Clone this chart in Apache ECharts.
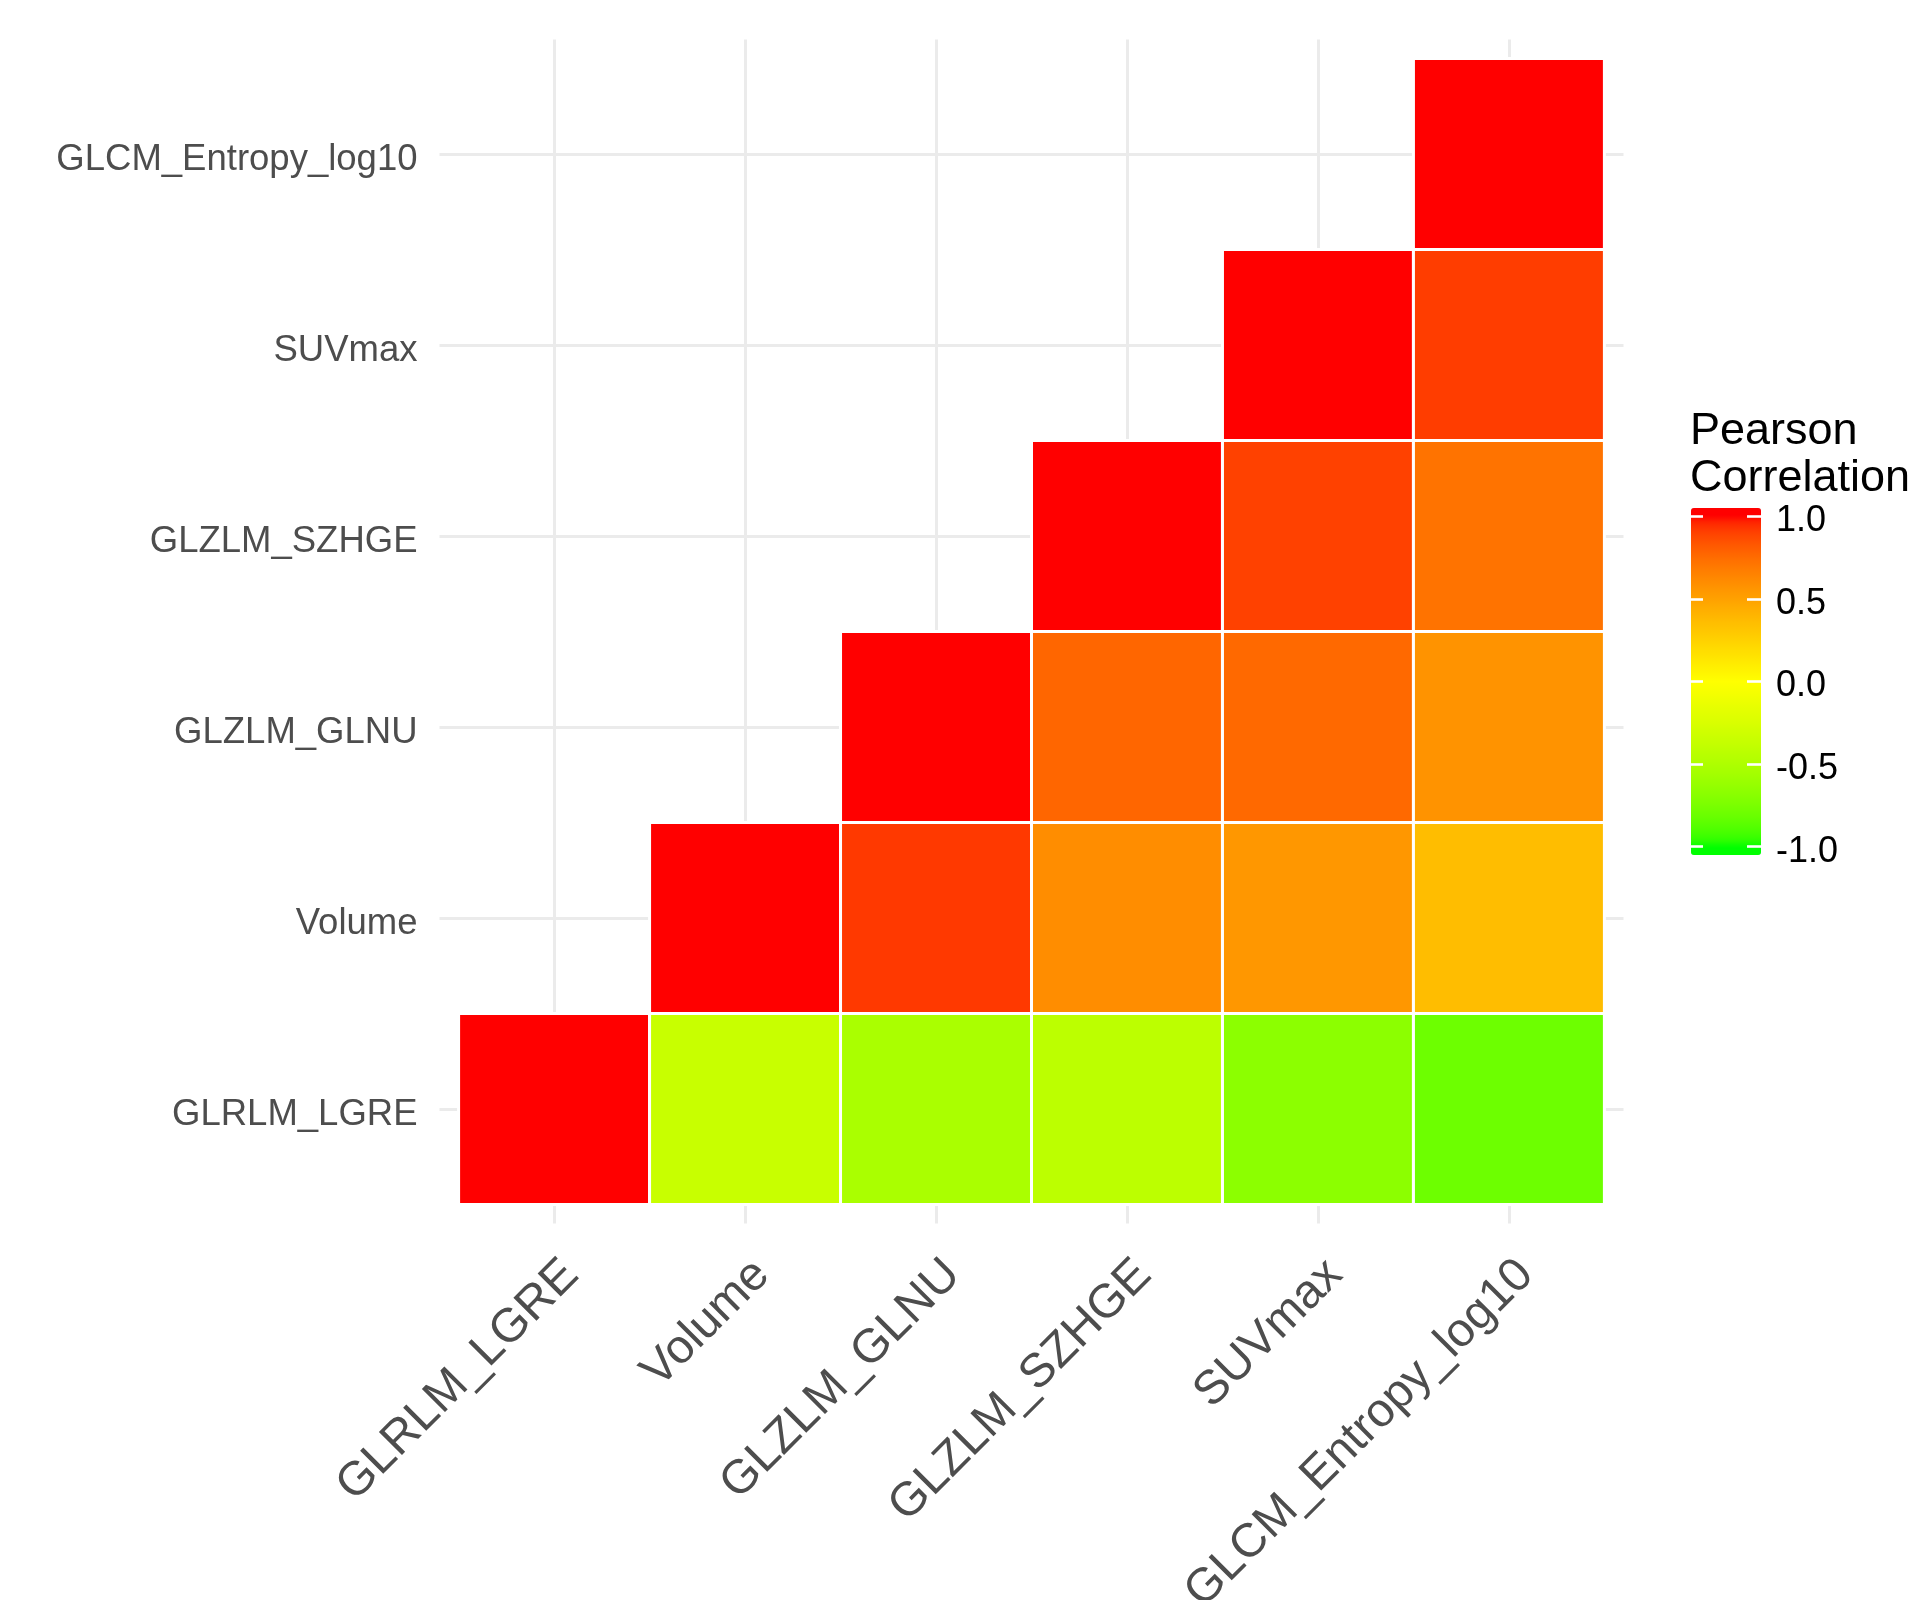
<!DOCTYPE html>
<html>
<head>
<meta charset="utf-8">
<title>Pearson correlation of PET features</title>
<script src="https://cdn.jsdelivr.net/npm/echarts@6/dist/echarts.min.js"></script>
<style>
  html, body { margin: 0; padding: 0; background: #ffffff; }
  #chart { width: 1909px; height: 1600px; }
</style>
</head>
<body>
<div id="chart"></div>
<script>
// Features in axis order (bottom-to-top on y, left-to-right on x)
const features = ['GLRLM_LGRE', 'Volume', 'GLZLM_GLNU', 'GLZLM_SZHGE', 'SUVmax', 'GLCM_Entropy_log10'];

// Pearson r of each feature with itself and with every feature listed after it
const rLGRE    = [1.00, -0.35, -0.52, -0.42, -0.67, -0.80];
const rVolume  = [1.00, 0.92, 0.60, 0.55, 0.36];
const rGLNU    = [1.00, 0.77, 0.76, 0.57];
const rSZHGE   = [1.00, 0.90, 0.72];
const rSUVmax  = [1.00, 0.91];
const rEntropy = [1.00];

// Colour bar breaks
const legendBreaks = [-1, -0.5, 0, 0.5, 1];
const legendTitle = 'Pearson\nCorrelation';

// ---- diverging green / yellow / red gradient interpolated in CIE Lab ----
const WHITE = [0.95047, 1.0, 1.08883];
function toLin(c) { c /= 255; return c <= 0.04045 ? c / 12.92 : Math.pow((c + 0.055) / 1.055, 2.4); }
function fromLin(c) {
  c = Math.min(1, Math.max(0, c));
  const s = c <= 0.0031308 ? 12.92 * c : 1.055 * Math.pow(c, 1 / 2.4) - 0.055;
  return Math.round(s * 255);
}
function labF(t) { const d = 6 / 29; return t > d * d * d ? Math.cbrt(t) : t / (3 * d * d) + 4 / 29; }
function labFi(f) { const d = 6 / 29; return f > d ? f * f * f : 3 * d * d * (f - 4 / 29); }
function hexToLab(hex) {
  const r = toLin(parseInt(hex.slice(1, 3), 16));
  const g = toLin(parseInt(hex.slice(3, 5), 16));
  const b = toLin(parseInt(hex.slice(5, 7), 16));
  const X = 0.4124564 * r + 0.3575761 * g + 0.1804375 * b;
  const Y = 0.2126729 * r + 0.7151522 * g + 0.0721750 * b;
  const Z = 0.0193339 * r + 0.1191920 * g + 0.9503041 * b;
  const fx = labF(X / WHITE[0]), fy = labF(Y / WHITE[1]), fz = labF(Z / WHITE[2]);
  return [116 * fy - 16, 500 * (fx - fy), 200 * (fy - fz)];
}
function labToHex(lab) {
  const fy = (lab[0] + 16) / 116, fx = fy + lab[1] / 500, fz = fy - lab[2] / 200;
  const X = WHITE[0] * labFi(fx), Y = WHITE[1] * labFi(fy), Z = WHITE[2] * labFi(fz);
  const r =  3.2404542 * X - 1.5371385 * Y - 0.4985314 * Z;
  const g = -0.9692660 * X + 1.8760108 * Y + 0.0415560 * Z;
  const b =  0.0556434 * X - 0.2040259 * Y + 1.0572252 * Z;
  return '#' + [r, g, b].map(c => fromLin(c).toString(16).padStart(2, '0')).join('');
}
const LAB_LOW = hexToLab('#00ff00'), LAB_MID = hexToLab('#ffff00'), LAB_HIGH = hexToLab('#ff0000');
function gradientColor(v) {
  v = Math.max(-1, Math.min(1, v));
  const end = v >= 0 ? LAB_HIGH : LAB_LOW, t = Math.abs(v);
  return labToHex(LAB_MID.map((m, i) => m + (end[i] - m) * t));
}
// colour bar runs half a bin past the limits on each side
const BAR_MIN = -1.05, BAR_MAX = 1.05, N_STOPS = 85;
const barColors = [];
for (let k = 0; k < N_STOPS; k++) {
  barColors.push(gradientColor(BAR_MIN + (BAR_MAX - BAR_MIN) * k / (N_STOPS - 1)));
}

// ---- tiles: upper triangle, x index >= y index (1-based positions) ----
const rows = [rLGRE, rVolume, rGLNU, rSZHGE, rSUVmax, rEntropy];
const cells = [];
rows.forEach((row, i) => {
  row.forEach((r, k) => { cells.push([i + k + 1, i + 1, r]); });
});
const positions = features.map((_, i) => i + 1);

const FONT = '"Liberation Sans", Arial, sans-serif';
const GRID_COLOR = '#ebebeb';

const chart = echarts.init(document.getElementById('chart'), null, { renderer: 'canvas' });

chart.setOption({
  animation: false,
  backgroundColor: '#ffffff',
  textStyle: { fontFamily: FONT },
  grid: [
    { left: 439.5, top: 39.5, width: 1184, height: 1184, outerBoundsMode: 'none', containLabel: false },
    { left: 1691, top: 508, width: 70, height: 347, outerBoundsMode: 'none', containLabel: false }
  ],
  xAxis: [
    {
      gridIndex: 0, type: 'value', min: 0.4, max: 6.6,
      axisLine: { show: false },
      axisTick: { show: false, customValues: positions },
      splitLine: { show: true, lineStyle: { color: GRID_COLOR, width: 3 } },
      axisLabel: {
        customValues: positions,
        formatter: v => features[Math.round(v) - 1],
        rotate: 45, align: 'right', verticalAlign: 'top',
        margin: 27, fontSize: 47.5, color: '#4d4d4d', fontFamily: FONT
      }
    },
    { gridIndex: 1, type: 'value', min: 0, max: 1, show: false }
  ],
  yAxis: [
    {
      gridIndex: 0, type: 'value', min: 0.4, max: 6.6,
      axisLine: { show: false },
      axisTick: { show: false, customValues: positions },
      splitLine: { show: true, lineStyle: { color: GRID_COLOR, width: 3 } },
      axisLabel: {
        customValues: positions,
        formatter: v => features[Math.round(v) - 1],
        margin: 22, fontSize: 36.5, color: '#4d4d4d', fontFamily: FONT,
        verticalAlign: 'top', lineHeight: 12
      }
    },
    {
      gridIndex: 1, type: 'value', min: BAR_MIN, max: BAR_MAX, position: 'left', z: 10,
      axisLine: { show: false },
      axisTick: { show: true, inside: true, length: 12, customValues: legendBreaks,
                  lineStyle: { color: '#ffffff', width: 2.6 } },
      splitLine: { show: false },
      axisLabel: { show: false }
    },
    {
      gridIndex: 1, type: 'value', min: BAR_MIN, max: BAR_MAX, position: 'right', z: 10,
      axisLine: { show: false },
      axisTick: { show: true, inside: true, length: 14, customValues: legendBreaks,
                  lineStyle: { color: '#ffffff', width: 2.6 } },
      splitLine: { show: false },
      axisLabel: {
        customValues: legendBreaks,
        formatter: v => v.toFixed(1),
        margin: 15, fontSize: 36, color: '#000000', fontFamily: FONT,
        verticalAlign: 'top', lineHeight: 10
      }
    }
  ],
  visualMap: {
    type: 'continuous',
    min: BAR_MIN, max: BAR_MAX,
    dimension: 2,
    seriesIndex: 0,
    calculable: false,
    hoverLink: false,
    itemWidth: 70, itemHeight: 347,
    left: 1691, top: 508,
    padding: 0,
    text: null,
    inRange: { color: barColors }
  },
  graphic: [
    {
      type: 'text', left: 1690, top: 408, z: 20,
      style: { text: legendTitle, font: '45px ' + FONT, lineHeight: 47, fill: '#000000' }
    }
  ],
  series: [
    {
      type: 'custom',
      coordinateSystem: 'cartesian2d',
      xAxisIndex: 0, yAxisIndex: 0,
      encode: { x: 0, y: 1 },
      data: cells,
      renderItem: function (params, api) {
        const x = api.value(0), y = api.value(1);
        const p0 = api.coord([x - 0.5, y + 0.5]);
        const p1 = api.coord([x + 0.5, y - 0.5]);
        return {
          type: 'rect',
          shape: { x: p0[0], y: p0[1], width: p1[0] - p0[0], height: p1[1] - p0[1] },
          style: { fill: api.visual('color'), stroke: '#ffffff', lineWidth: 3 }
        };
      }
    }
  ]
});
</script>
</body>
</html>
